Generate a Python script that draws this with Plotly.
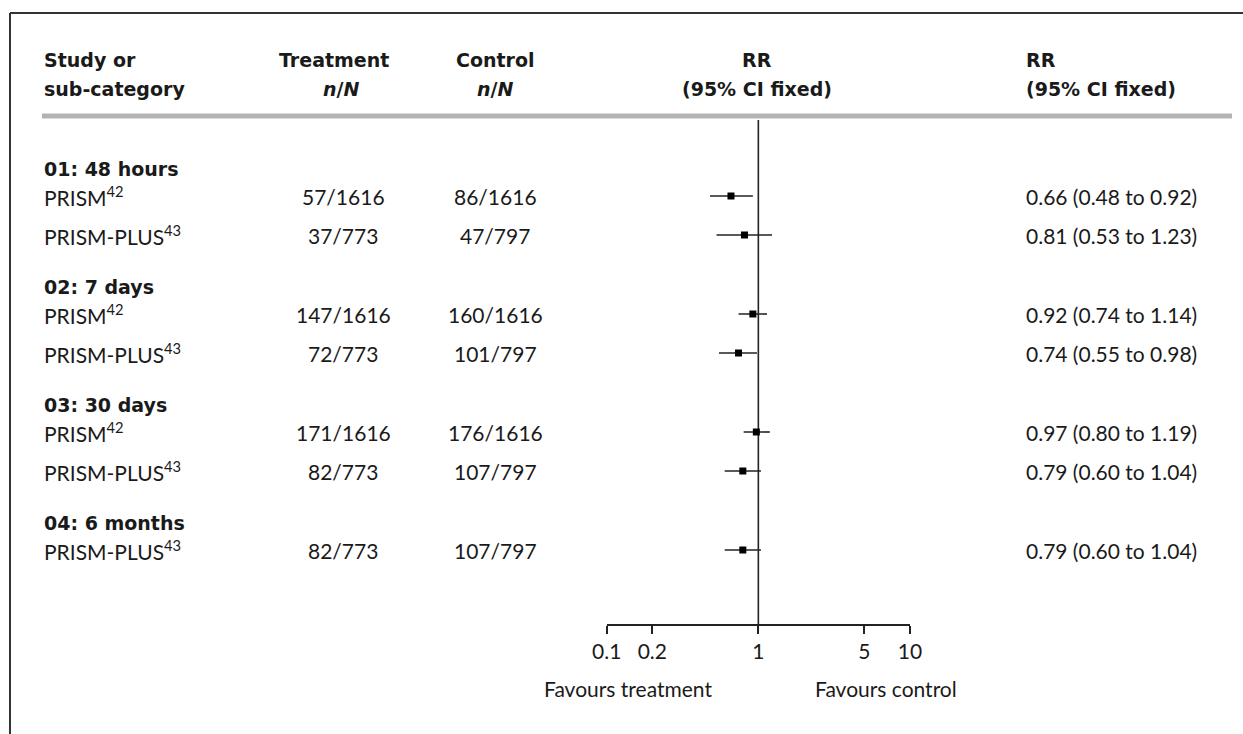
import plotly.graph_objects as go

# ---------------- data ----------------
groups = ["01: 48 hours", "02: 7 days", "03: 30 days", "04: 6 months"]
row_group = [0, 0, 1, 1, 2, 2, 3]
studies = ["PRISM", "PRISM-PLUS", "PRISM", "PRISM-PLUS", "PRISM", "PRISM-PLUS", "PRISM-PLUS"]
refs = ["42", "43", "42", "43", "42", "43", "43"]
treat_n = [57, 37, 147, 72, 171, 82, 82]
treat_N = [1616, 773, 1616, 773, 1616, 773, 773]
ctrl_n = [86, 47, 160, 101, 176, 107, 107]
ctrl_N = [1616, 797, 1616, 797, 1616, 797, 797]
rr = [0.66, 0.81, 0.92, 0.74, 0.97, 0.79, 0.79]
rr_lo = [0.48, 0.53, 0.74, 0.55, 0.80, 0.60, 0.60]
rr_hi = [0.92, 1.23, 1.14, 0.98, 1.19, 1.04, 1.04]
tick_vals = [0.1, 0.2, 1, 5, 10]
tick_text = ["0.1", "0.2", "1", "5", "10"]

# ---------------- layout constants (pixels) ----------------
W, H = 1243, 734
FONT = "Lato"
BFONT = "DejaVu Sans"
FS = 21
BFS = 19
TXT = "#1a1a1a"
LINE = "#222222"

first_header = 169
hdr_to_study = 27
study_step = 39
study_to_hdr = 52

group_y = []
row_y = []
y = first_header
for g in range(len(groups)):
    group_y.append(y)
    members = [i for i, rg in enumerate(row_group) if rg == g]
    yy = y + hdr_to_study
    for i in members:
        row_y.append(yy)
        last = yy
        yy += study_step
    y = last + study_to_hdr

px = lambda v: v / W

x_study = 43
x_treat = 343
x_ctrl = 495
x_mid = 757
x_rr = 1025
axis_y = 625

fig = go.Figure()

cx, cy = [], []
for lo, hi, yy in zip(rr_lo, rr_hi, row_y):
    cx += [lo, hi, None]
    cy += [yy, yy, None]
fig.add_trace(go.Scatter(x=cx, y=cy, mode="lines", line=dict(color=LINE, width=1.6),
                         hoverinfo="skip", showlegend=False))
fig.add_trace(go.Scatter(x=[1, 1], y=[120, axis_y], mode="lines",
                         line=dict(color=LINE, width=1.6), hoverinfo="skip", showlegend=False))
fig.add_trace(go.Scatter(x=rr, y=row_y, mode="markers",
                         marker=dict(symbol="square", size=7, color="black"),
                         showlegend=False))

ann = []
def text(x, y, t, anchor="left", bold=False):
    ann.append(dict(x=px(x), y=y, xref="paper", yref="y", text=(f"<b>{t}</b>" if bold else t),
                    showarrow=False, xanchor=anchor, yanchor="middle", borderpad=0,
                    font=dict(family=BFONT if bold else FONT, size=BFS if bold else FS, color=TXT)))

text(x_study, 60, "Study or", bold=True)
text(x_study, 89, "sub-category", bold=True)
text(334, 60, "Treatment", "center", bold=True)
text(341, 89, "<i>n</i>/<i>N</i>", "center", bold=True)
text(x_ctrl, 60, "Control", "center", bold=True)
text(x_ctrl, 89, "<i>n</i>/<i>N</i>", "center", bold=True)
text(x_mid, 60, "RR", "center", bold=True)
text(x_mid, 89, "(95% CI fixed)", "center", bold=True)
text(x_rr, 60, "RR", bold=True)
text(x_rr, 89, "(95% CI fixed)", bold=True)

for g, gy in zip(groups, group_y):
    text(x_study, gy, g, bold=True)

for i, yy in enumerate(row_y):
    text(x_study, yy, f"{studies[i]}<sup>{refs[i]}</sup>")
    text(x_treat, yy, f"{treat_n[i]}/{treat_N[i]}", "center")
    text(x_ctrl, yy, f"{ctrl_n[i]}/{ctrl_N[i]}", "center")
    text(x_rr, yy, f"{rr[i]:.2f} ({rr_lo[i]:.2f} to {rr_hi[i]:.2f})")

text(628, 688, "Favours treatment", "center")
text(886, 688, "Favours control", "center")

shapes = [
    dict(type="line", xref="paper", yref="y", x0=px(10), x1=1, y0=13, y1=13,
         line=dict(color="#333333", width=2)),
    dict(type="line", xref="paper", yref="y", x0=px(10), x1=px(10), y0=13, y1=H,
         line=dict(color="#333333", width=2)),
    dict(type="line", xref="paper", yref="y", x0=px(42), x1=px(1232), y0=116, y1=116,
         line=dict(color="#b3b3b3", width=5)),
]

fig.update_layout(
    width=W, height=H,
    margin=dict(l=0, r=0, t=0, b=0, autoexpand=False),
    paper_bgcolor="white", plot_bgcolor="white",
    annotations=ann, shapes=shapes,
    xaxis=dict(type="log", range=[-1, 1], domain=[px(606.7), px(910)],
               anchor="free", position=1 - axis_y / H, automargin=False,
               showline=True, linecolor=LINE, linewidth=1.6,
               ticks="outside", ticklen=8, tickwidth=1.6, tickcolor=LINE,
               tickvals=tick_vals, ticktext=tick_text,
               tickfont=dict(family=FONT, size=FS, color=TXT),
               showgrid=False, zeroline=False, fixedrange=True),
    yaxis=dict(range=[H, 0], domain=[0, 1], visible=False, automargin=False, fixedrange=True),
    showlegend=False,
)

fig.write_html("out.html")
